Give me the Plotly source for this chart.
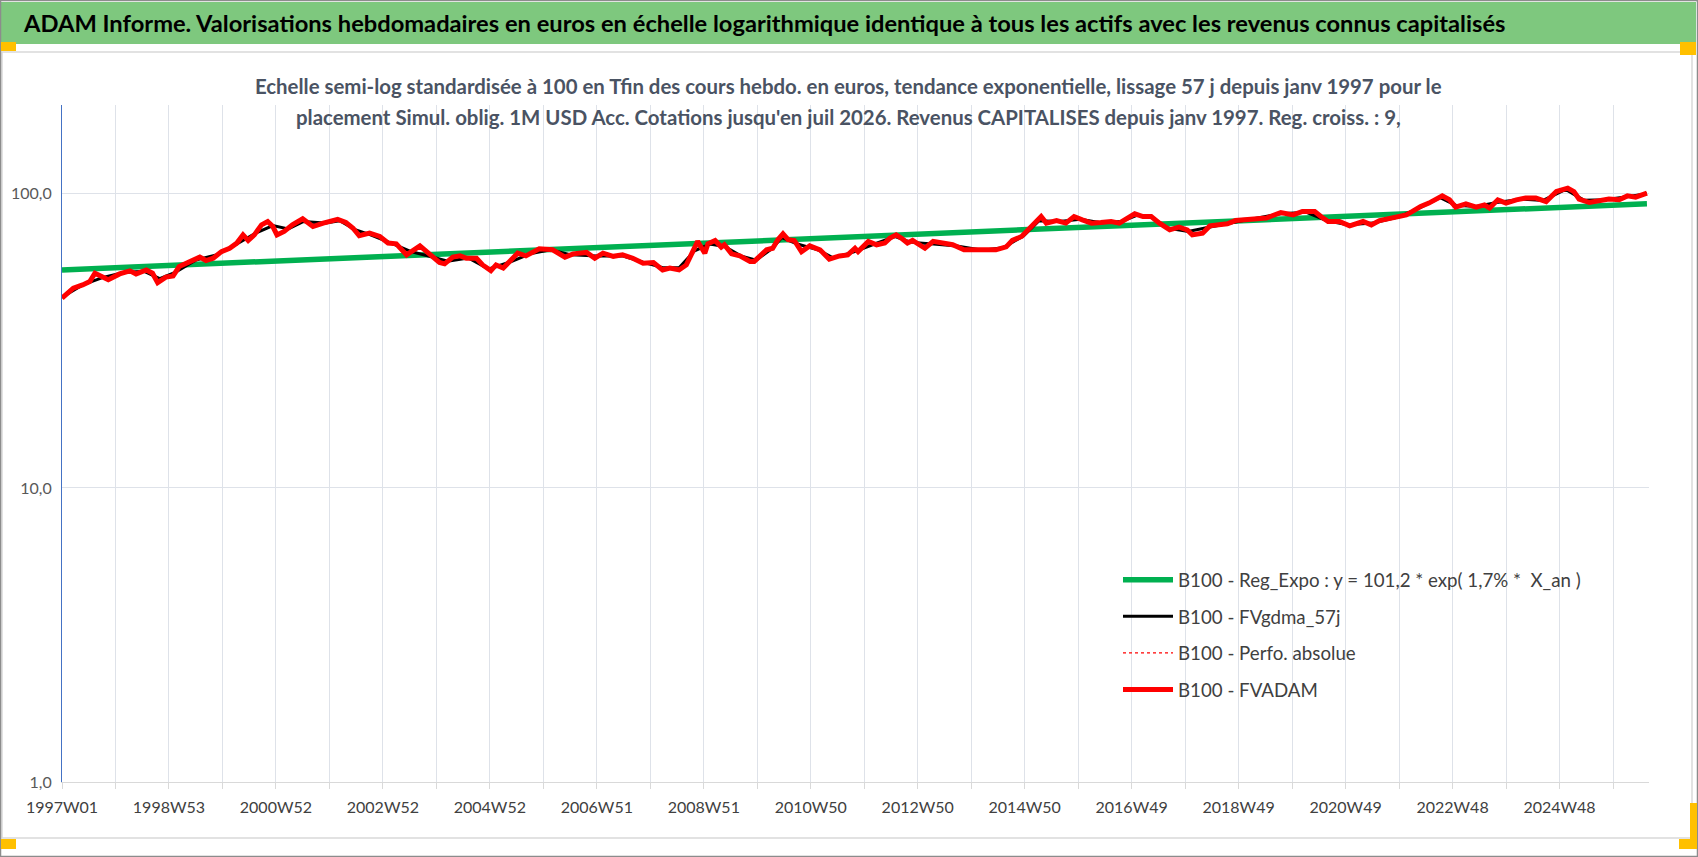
import plotly.graph_objects as go

# ---- data (x = week index since 1997W01) ----
fvadam_weeks = [0, 11, 20, 27, 32, 45, 56, 66, 72, 82, 88, 93, 101, 108, 114, 127, 134, 140, 147, 155,
                163, 170, 176, 181, 187, 194, 200, 205, 209, 216, 224, 234, 244, 254, 268, 276, 283, 289, 299, 309,
                317, 325, 335, 348, 357, 367, 372, 380, 387, 393, 403, 409, 417, 422, 429, 435, 443, 451, 464, 477,
                489, 497, 510, 518, 526, 536, 545, 555, 565, 575, 584, 591, 600, 607, 613, 618, 625, 628, 635, 641,
                644, 651, 659, 669, 673, 678, 685, 691, 696, 701, 706, 712, 719, 727, 737, 746, 756, 764, 771, 774,
                784, 792, 800, 805, 811, 816, 822, 827, 839, 847, 856, 866, 877, 889, 899, 908, 918, 924, 933, 939,
                947, 952, 957, 967, 976, 984, 992, 1001, 1010, 1020, 1028, 1035, 1043, 1051, 1059, 1067, 1077, 1086, 1094, 1099,
                1109, 1116, 1125, 1133, 1141, 1151, 1158, 1171, 1185, 1197, 1206, 1218, 1224, 1231, 1242, 1252, 1265, 1273, 1281, 1294,
                1307, 1313, 1321, 1329, 1334, 1342, 1349, 1355, 1365, 1375, 1383, 1388, 1396, 1404, 1414, 1423, 1433, 1443, 1453, 1464,
                1470, 1475, 1485, 1495, 1504, 1514, 1522, 1530, 1541]
fvadam = [44.2, 47.8, 49.0, 50.3, 53.7, 51.0, 53.4, 54.7, 53.4, 55.1, 53.7, 49.9, 52.1, 52.6, 56.6, 59.6, 60.9, 59.3, 60.4, 63.6,
          65.3, 68.0, 72.5, 69.4, 72.5, 78.4, 80.5, 77.4, 72.5, 74.5, 78.4, 82.2, 77.4, 79.5, 81.9, 79.9, 76.4, 72.0, 73.5, 71.6,
          68.0, 67.6, 62.0, 66.5, 62.8, 58.4, 57.8, 60.9, 61.5, 60.4, 60.4, 57.3, 54.8, 57.3, 55.9, 58.9, 62.8, 61.5, 65.0, 64.5,
          60.9, 62.5, 63.2, 60.4, 62.8, 61.3, 62.0, 60.4, 58.1, 58.4, 55.1, 55.9, 55.1, 57.3, 63.6, 68.9, 62.8, 67.6, 69.4, 65.9,
          67.1, 62.5, 61.5, 58.9, 58.9, 60.9, 64.5, 65.3, 69.8, 73.1, 69.8, 69.4, 63.6, 66.5, 64.5, 60.0, 61.5, 62.0, 65.3, 63.6,
          68.9, 67.1, 68.0, 70.7, 72.5, 70.7, 68.0, 69.4, 65.3, 68.9, 68.0, 67.1, 64.5, 64.3, 64.2, 64.5, 66.0, 69.4, 71.6, 75.4,
          80.5, 83.7, 79.5, 81.1, 79.5, 83.7, 81.6, 79.5, 79.9, 80.5, 79.5, 82.7, 85.5, 83.7, 83.7, 79.5, 75.4, 77.0, 75.4, 72.5,
          73.5, 77.8, 78.4, 79.1, 81.1, 81.6, 82.7, 82.7, 86.4, 84.8, 87.1, 87.1, 83.7, 80.5, 80.5, 77.8, 80.5, 78.4, 81.1, 82.7,
          84.8, 87.1, 90.6, 93.0, 95.4, 98.4, 95.4, 90.1, 92.5, 90.1, 91.7, 89.4, 95.4, 93.0, 95.4, 96.7, 96.7, 94.1, 101.8, 104.5,
          101.8, 96.0, 93.4, 94.9, 96.0, 95.4, 98.4, 97.4, 100.5]

gdma_weeks = [0, 20, 40, 60, 80, 95, 110, 130, 150, 170, 190, 205, 220, 235, 255, 270, 285, 300, 320, 340,
              360, 375, 395, 415, 435, 455, 475, 495, 520, 545, 565, 585, 600, 615, 630, 645, 660, 675, 690, 700,
              715, 735, 750, 770, 790, 810, 825, 845, 870, 895, 915, 935, 950, 970, 990, 1010, 1030, 1045, 1060, 1075,
              1095, 1115, 1135, 1160, 1185, 1210, 1230, 1250, 1275, 1300, 1320, 1340, 1355, 1375, 1395, 1420, 1440, 1462, 1480, 1500,
              1520, 1541]
gdma = [44.5, 49.0, 52.0, 54.0, 54.5, 51.5, 54.0, 59.5, 62.0, 67.5, 74.0, 78.0, 76.0, 80.5, 79.5, 81.0, 75.5, 72.5, 68.0, 63.5,
        61.0, 59.0, 60.5, 55.5, 58.5, 62.5, 64.5, 62.0, 61.5, 61.5, 58.5, 56.0, 56.0, 64.0, 67.5, 66.0, 61.5, 59.5, 65.0, 71.0,
        67.5, 64.5, 60.5, 63.5, 67.5, 71.5, 68.5, 67.5, 66.5, 64.3, 65.5, 72.0, 81.0, 80.5, 82.0, 79.8, 80.5, 84.5, 83.0, 76.5,
        74.5, 77.0, 79.5, 82.5, 85.5, 86.5, 81.0, 78.5, 79.5, 83.5, 89.5, 97.0, 91.5, 90.5, 93.5, 96.0, 95.0, 103.5, 95.0, 95.5,
        97.5, 100.0]

reg_weeks = [0, 1541]
reg_expo = [55.1, 92.5]

x_labels = ["1997W01", "1998W53", "2000W52", "2002W52", "2004W52", "2006W51", "2008W51", "2010W50",
            "2012W50", "2014W50", "2016W49", "2018W49", "2020W49", "2022W48", "2024W48"]

names = ["B100 - Reg_Expo : y = 101,2 * exp( 1,7% *  X_an )", "B100 - FVgdma_57j",
         "B100 - Perfo. absolue", "B100 - FVADAM"]

title = ("ADAM Informe. Valorisations hebdomadaires en euros en échelle logarithmique identique "
         "à tous les actifs avec les revenus connus capitalisés")
sub1 = ("Echelle semi-log standardisée à 100 en Tfin des cours hebdo. en euros, tendance exponentielle, "
        "lissage 57 j depuis janv 1997 pour le")
sub2 = ("placement Simul. oblig. 1M USD Acc. Cotations jusqu'en juil 2026. Revenus CAPITALISES "
        "depuis janv 1997. Reg. croiss. : 9,")

W, H = 1698, 857
L, R, T, B = 62, 49, 105, 75
FONT = "Lato"


def px(x):
    return (x - L) / (W - L - R)


def py(y):
    return (H - B - y) / (H - T - B)


fig = go.Figure()
fig.add_trace(go.Scatter(x=reg_weeks, y=reg_expo, mode="lines", name=names[0], legendgroup="a",
                         line=dict(color="#00B050", width=5.5)))
fig.add_trace(go.Scatter(x=gdma_weeks, y=gdma, mode="lines", name=names[1], legendgroup="b",
                         line=dict(color="black", width=3)))
fig.add_trace(go.Scatter(x=fvadam_weeks, y=fvadam, mode="lines", name=names[2], legendgroup="c",
                         line=dict(color="#FF0000", width=1.2, dash="dot")))
fig.add_trace(go.Scatter(x=fvadam_weeks, y=fvadam, mode="lines", name=names[3], legendgroup="d",
                         line=dict(color="#FF0000", width=5)))

tickvals = list(range(0, 1543, 52))
ticktext = [x_labels[i // 2] if i % 2 == 0 and i // 2 < len(x_labels) else "" for i in range(len(tickvals))]

shapes = [
    # green title band
    dict(type="rect", xref="paper", yref="paper", x0=px(1), x1=px(W - 2), y0=py(44), y1=py(2),
         fillcolor="#7EC87E", line=dict(width=0), layer="below"),
    # chart area frame
    dict(type="rect", xref="paper", yref="paper", x0=px(2), x1=px(1692), y0=py(838), y1=py(52),
         line=dict(color="#D9D9D9", width=1.5), layer="below"),
    # outer border
    dict(type="rect", xref="paper", yref="paper", x0=px(0.5), x1=px(W - 0.5), y0=py(H - 0.5), y1=py(0.5),
         line=dict(color="#8C8C8C", width=1.5)),
    # yellow handles
    dict(type="rect", xref="paper", yref="paper", x0=px(1), x1=px(16), y0=py(51), y1=py(42),
         fillcolor="#FFC000", line=dict(width=0)),
    dict(type="rect", xref="paper", yref="paper", x0=px(1680), x1=px(1696), y0=py(55), y1=py(42),
         fillcolor="#FFC000", line=dict(width=0)),
    dict(type="rect", xref="paper", yref="paper", x0=px(1), x1=px(16), y0=py(849), y1=py(839),
         fillcolor="#FFC000", line=dict(width=0)),
    dict(type="rect", xref="paper", yref="paper", x0=px(1690), x1=px(1697), y0=py(849), y1=py(803),
         fillcolor="#FFC000", line=dict(width=0)),
    dict(type="rect", xref="paper", yref="paper", x0=px(1679), x1=px(1697), y0=py(849), y1=py(839),
         fillcolor="#FFC000", line=dict(width=0)),
]

annotations = [
    dict(text="<b>" + title + "</b>", xref="paper", yref="paper", x=px(21), y=py(23),
         xanchor="left", yanchor="middle", showarrow=False,
         font=dict(family=FONT, size=23.7, color="black")),
    dict(text="<b>" + sub1 + "</b>", xref="paper", yref="paper", x=px(848), y=py(86),
         xanchor="center", yanchor="middle", showarrow=False,
         font=dict(family=FONT, size=20.4, color="#4A5363")),
    dict(text="<b>" + sub2 + "</b>", xref="paper", yref="paper", x=px(848), y=py(117),
         xanchor="center", yanchor="middle", showarrow=False,
         font=dict(family=FONT, size=20.4, color="#4A5363")),
]

fig.update_layout(
    width=W, height=H,
    margin=dict(l=L, r=R, t=T, b=B),
    paper_bgcolor="white", plot_bgcolor="white",
    font=dict(family=FONT, color="#404040"),
    shapes=shapes,
    annotations=annotations,
    legend=dict(x=px(1118), y=py(561), xanchor="left", yanchor="top",
                font=dict(family=FONT, size=18.7, color="#404040"),
                bgcolor="rgba(0,0,0,0)", tracegroupgap=9.3, itemwidth=50),
    xaxis=dict(range=[0, 1543], tickvals=tickvals, ticktext=ticktext, showgrid=True,
               gridcolor="#DEE2E9", gridwidth=1, showline=True, linecolor="#D9D9D9", linewidth=1,
               ticks="outside", ticklen=6, tickcolor="#D9D9D9", zeroline=False, ticklabelstandoff=5,
               tickfont=dict(family=FONT, size=16, color="#404040")),
    yaxis=dict(type="log", range=[0, 2.302], tickvals=[1, 10, 100], ticktext=["1,0", "10,0", "100,0"],
               showgrid=True, gridcolor="#DEE2E9", gridwidth=1, showline=True, linecolor="#4472C4",
               linewidth=1, ticks="", zeroline=False, ticklabelstandoff=6,
               tickfont=dict(family=FONT, size=16, color="#595959")),
)

fig.write_html("out.html", config={"displayModeBar": False},
               post_script="document.body.style.margin='0';document.body.style.overflow='hidden';")
